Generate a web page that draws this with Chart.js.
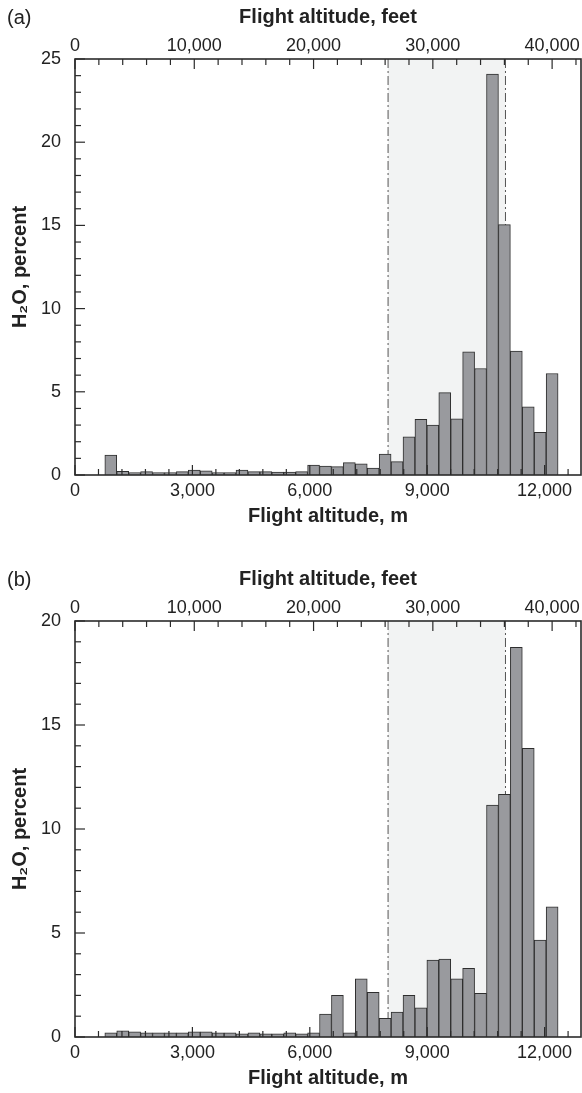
<!DOCTYPE html>
<html>
<head>
<meta charset="utf-8">
<script src="https://cdn.jsdelivr.net/npm/chart.js@4/dist/chart.umd.min.js"></script>
<style>
  html, body { margin: 0; padding: 0; background: #fff; overflow: hidden; }
  .panel { position: absolute; left: 0; width: 582px; height: 562px; }
  .tag { position: absolute; left: 7px; top: 6px; font: 20px "Liberation Sans", Arial, sans-serif; color: #222; }
</style>
</head>
<body>
<div class="panel" style="top:0"><canvas id="chartA"></canvas><div class="tag">(a)</div></div>
<div class="panel" style="top:562px"><canvas id="chartB"></canvas><div class="tag">(b)</div></div>
<script>
// histogramas de H2O por altitude de voo, classes de 1000 ft
const FT = 0.3048;

const binsFt = [3000, 4000, 5000, 6000, 7000, 8000, 9000, 10000, 11000, 12000,
  13000, 14000, 15000, 16000, 17000, 18000, 19000, 20000, 21000, 22000,
  23000, 24000, 25000, 26000, 27000, 28000, 29000, 30000, 31000, 32000,
  33000, 34000, 35000, 36000, 37000, 38000, 39000, 40000];

const waterA = [1.2, 0.22, 0.15, 0.2, 0.15, 0.15, 0.2, 0.3, 0.25, 0.15,
  0.15, 0.3, 0.2, 0.2, 0.18, 0.18, 0.2, 0.6, 0.53, 0.5,
  0.74, 0.67, 0.42, 1.26, 0.8, 2.3, 3.35, 3.0, 4.95, 3.37,
  7.4, 6.4, 24.1, 15.05, 7.45, 4.1, 2.56, 6.1];

const waterB = [0.2, 0.3, 0.25, 0.2, 0.2, 0.2, 0.2, 0.25, 0.25, 0.2,
  0.2, 0.15, 0.2, 0.15, 0.15, 0.2, 0.15, 0.2, 1.1, 2.0,
  0.2, 2.8, 2.15, 0.9, 1.2, 2.0, 1.4, 3.7, 3.75, 2.8,
  3.3, 2.1, 11.15, 11.67, 18.73, 13.88, 4.66, 6.26];

const mTicks = [0, 3000, 6000, 9000, 12000];
const ftTicks = [0, 10000, 20000, 30000, 40000];
const yTicksA = [0, 5, 10, 15, 20, 25];
const yTicksB = [0, 5, 10, 15, 20];
const cruiseBand = [8000, 11000]; // metros
const maxM = 12930;

Chart.defaults.font.family = '"Liberation Sans", Arial, sans-serif';
Chart.defaults.color = '#222';

const fmt = v => v.toLocaleString('en-US');

// faixa de cruzeiro + linhas traço-ponto, atrás das barras
const bandPlugin = {
  id: 'band',
  beforeDatasetsDraw(chart) {
    const { ctx, chartArea: a, scales } = chart;
    const x0 = scales.x.getPixelForValue(cruiseBand[0]);
    const x1 = scales.x.getPixelForValue(cruiseBand[1]);
    ctx.save();
    ctx.fillStyle = '#f2f3f3';
    ctx.fillRect(x0, a.top, x1 - x0, a.bottom - a.top);
    ctx.strokeStyle = '#555';
    ctx.lineWidth = 1;
    ctx.setLineDash([9, 3, 2, 3]);
    [x0, x1].forEach(x => {
      ctx.beginPath();
      ctx.moveTo(x, a.top);
      ctx.lineTo(x, a.bottom);
      ctx.stroke();
    });
    ctx.restore();
  }
};

// moldura e marcas para dentro
const framePlugin = {
  id: 'frame',
  afterDatasetsDraw(chart) {
    const { ctx, chartArea: a, scales } = chart;
    ctx.save();
    ctx.strokeStyle = '#2b2b2b';
    ctx.lineWidth = 1.2;
    const line = (x0, y0, x1, y1) => {
      ctx.beginPath(); ctx.moveTo(x0, y0); ctx.lineTo(x1, y1); ctx.stroke();
    };
    for (let v = 0; v <= scales.y.max; v += 1) {
      const y = scales.y.getPixelForValue(v);
      line(a.left, y, a.left + (v % 5 === 0 ? 10 : 6), y);
    }
    for (let f = 0; f <= scales.x2.max; f += 2000) {
      const x = scales.x2.getPixelForValue(f);
      line(x, a.top, x, a.top + (f % 10000 === 0 ? 10 : 6));
    }
    for (let m = 0; m <= scales.x.max; m += 600) {
      const x = scales.x.getPixelForValue(m);
      line(x, a.bottom, x, a.bottom - (m % 3000 === 0 ? 10 : 6));
    }
    ctx.lineWidth = 1.6;
    ctx.strokeRect(a.left, a.top, a.right - a.left, a.bottom - a.top);
    ctx.restore();
  }
};

function makePanel(id, values, yTicks) {
  const ctx = document.getElementById(id).getContext('2d');
  return new Chart(ctx, {
    type: 'bar',
    data: {
      datasets: [{
        data: binsFt.map((f, i) => ({ x: f, y: values[i] })),
        xAxisID: 'x2',
        yAxisID: 'y',
        backgroundColor: '#999a9e',
        borderColor: '#2e2e2e',
        borderWidth: 1,
        barPercentage: 1,
        categoryPercentage: 1
      }]
    },
    options: {
      responsive: true,
      maintainAspectRatio: false,
      animation: false,
      layout: { padding: { left: 0, right: 1, top: 0, bottom: 0 } },
      plugins: { legend: { display: false }, tooltip: { enabled: false } },
      scales: {
        x: {
          type: 'linear',
          position: 'bottom',
          min: 0,
          max: maxM,
          offset: false,
          grid: { display: false, drawTicks: false, offset: false },
          border: { display: false },
          afterBuildTicks: s => { s.ticks = mTicks.map(v => ({ value: v })); },
          afterFit: s => { s.height = 87; },
          ticks: { font: { size: 18 }, padding: 5, maxRotation: 0, autoSkip: false, callback: fmt },
          title: { display: true, text: 'Flight altitude, m', font: { size: 20, weight: 'bold' }, padding: { top: 0, bottom: 34 } }
        },
        x2: {
          type: 'linear',
          position: 'top',
          min: 0,
          max: maxM / FT,
          offset: false,
          grid: { display: false, drawTicks: false, offset: false },
          border: { display: false },
          afterBuildTicks: s => { s.ticks = ftTicks.map(v => ({ value: v })); },
          afterFit: s => { s.height = 59; },
          ticks: { font: { size: 18 }, padding: 2, maxRotation: 0, autoSkip: false, callback: fmt },
          title: { display: true, text: 'Flight altitude, feet', font: { size: 20, weight: 'bold' }, padding: { top: 5, bottom: 0 } }
        },
        y: {
          min: 0,
          max: yTicks[yTicks.length - 1],
          grid: { display: false, drawTicks: false },
          border: { display: false },
          afterBuildTicks: s => { s.ticks = yTicks.map(v => ({ value: v })); },
          afterFit: s => { s.width = 75; },
          ticks: { font: { size: 18 }, padding: 14 },
          title: { display: true, text: 'H\u2082O, percent', font: { size: 20, weight: 'bold' }, padding: { top: 8, bottom: 0 } }
        }
      }
    },
    plugins: [bandPlugin, framePlugin]
  });
}

makePanel('chartA', waterA, yTicksA);
makePanel('chartB', waterB, yTicksB);
</script>
</body>
</html>
